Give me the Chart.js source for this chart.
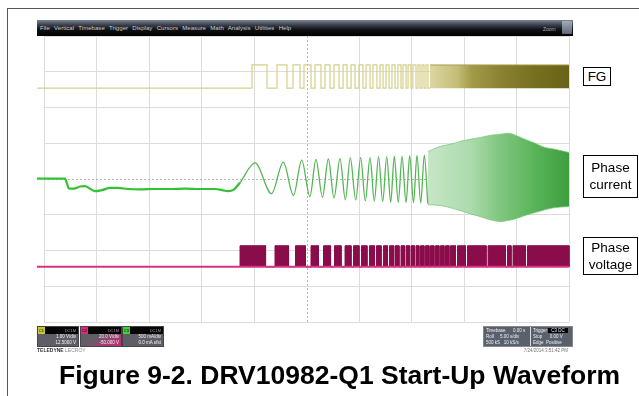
<!DOCTYPE html>
<html><head><meta charset="utf-8">
<script src="https://cdn.jsdelivr.net/npm/chart.js@4.4.1/dist/chart.umd.min.js"></script>
<style>
html,body{margin:0;padding:0;background:#fff;}
#wrap{position:relative;width:639px;height:396px;overflow:hidden;background:#fff;font-family:"Liberation Sans",Arial,sans-serif;}
#c{position:absolute;left:0;top:0;}
.abs{position:absolute;}
#frame{left:7px;top:8px;width:700px;height:500px;border-left:1.5px solid #555;border-top:1.5px solid #555;}
#menubar{left:37px;top:20px;width:536px;height:16px;background:linear-gradient(to bottom,#7d8798 0%,#3c414b 30%,#101114 60%,#000 100%);}
#menutext{left:40px;top:23.5px;font-size:6.1px;color:#c9cdd4;white-space:nowrap;word-spacing:2.6px;}
#zoomtxt{left:543px;top:26px;font-size:5px;color:#a9adb3;}
#zoombtn{left:562px;top:21px;width:10px;height:13px;background:linear-gradient(#a4acb8,#5f6774);border-radius:1px;}
.lbl{border:1px solid #000;background:#fff;color:#000;font-size:13.5px;text-align:center;line-height:17px;box-sizing:border-box;}
.ch{top:326px;height:21px;width:42px;box-sizing:border-box;border:1px solid #444;}
.chh{position:absolute;left:0;top:0;width:100%;height:7px;background:#050505;}
.tag{position:absolute;left:0;top:0;width:7px;height:7px;font-size:4px;line-height:7px;color:#000;text-align:center;}
.chb{position:absolute;left:0;top:7px;width:100%;height:12px;background:#5e5f66;color:#f2f2f2;font-size:4.5px;line-height:6px;text-align:right;padding-right:2px;box-sizing:border-box;}
.hdt{position:absolute;right:2px;top:1px;font-size:4px;color:#9a9a9a;line-height:5px;}
#tb{left:483px;top:326px;width:90px;height:21px;background:#59616b;border:1px solid #888;box-sizing:border-box;font-size:4.5px;color:#eef;}
.r{position:absolute;white-space:nowrap;line-height:6px;}
#title{left:0;top:360px;width:679px;text-align:center;font-weight:bold;font-size:26.5px;color:#000;white-space:nowrap;}
</style></head><body>
<div id="wrap">
<canvas id="c" width="639" height="396"></canvas>
<div id="frame" class="abs"></div>
<div id="menubar" class="abs"></div>
<div id="menutext" class="abs">File Vertical Timebase Trigger Display Cursors Measure Math Analysis Utilities Help</div>
<div id="zoomtxt" class="abs">Zoom</div>
<div id="zoombtn" class="abs"></div>

<div class="abs lbl" style="left:583px;top:67px;width:28px;height:19px;">FG</div>
<div class="abs lbl" style="left:583px;top:155px;width:55px;height:43px;padding-top:3px;">Phase<br>current</div>
<div class="abs lbl" style="left:583px;top:237px;width:55px;height:38px;padding-top:1px;">Phase<br>voltage</div>

<div class="abs ch" style="left:37px;"><div class="chh"><div class="tag" style="background:#c9c63a;">C1</div><div class="hdt">DC1M</div></div><div class="chb">1.00 V/div<br>12.5000 V</div></div>
<div class="abs ch" style="left:80px;"><div class="chh"><div class="tag" style="background:#e3267f;">C2</div><div class="hdt">DC1M</div></div><div class="chb" style="background:linear-gradient(150deg,#5e5f66 30%,#d0267a 100%);">20.0 V/div<br>-50.000 V</div></div>
<div class="abs ch" style="left:122px;"><div class="chh"><div class="tag" style="background:#3fd23f;">C3</div><div class="hdt">DC1M</div></div><div class="chb">500 mA/div<br>0.0 mA ofst</div></div>
<div class="abs" style="left:37px;top:347px;font-size:5px;color:#333;white-space:nowrap;"><b>TELEDYNE</b> <span style="color:#888">LECROY</span></div>

<div id="tb" class="abs">
 <div class="r" style="left:2px;top:1px;">Timebase &nbsp;&nbsp;&nbsp;&nbsp;&nbsp;0.00 s</div>
 <div class="r" style="left:49px;top:1px;">Trigger <span style="background:#000;padding:0 3px;">C3 DC</span></div>
 <div class="r" style="left:2px;top:7px;">Roll &nbsp;&nbsp;&nbsp;&nbsp;5.00 s/div</div>
 <div class="r" style="left:49px;top:7px;">Stop &nbsp;&nbsp;&nbsp;&nbsp;&nbsp;0.00 V</div>
 <div class="r" style="left:2px;top:13px;">500 kS &nbsp;&nbsp;10 kS/s</div>
 <div class="r" style="left:49px;top:13px;">Edge &nbsp;Positive</div>
 <div class="abs" style="left:46px;top:0;width:1px;height:19px;background:#ddd;"></div>
</div>
<div class="abs" style="left:520px;top:348px;width:48px;text-align:right;font-size:4.5px;color:#777;white-space:nowrap;">7/24/2014 3:51:42 PM</div>

<div id="title" class="abs">Figure 9-2. DRV10982-Q1 Start-Up Waveform</div>
</div>
<script>
// ---- data (x: time in s, 5 s/div; y: screen divisions 0..8) ----
const traceStart = -0.67;
const traceEnd = 50;
const gridTimes = [0, 5, 10, 15, 20, 25, 30, 35, 40, 45, 50];
const gridDivs = [0, 1, 2, 3, 4, 5, 6, 7, 8];

// FG (Ch1)
const fgLevels = [6.54, 7.19];            // low, high
const fgRise = [19.81, 22.19, 23.71, 24.76, 25.81, 26.76, 27.62, 28.48, 29.24, 30.00, 30.67, 31.33, 32.00, 32.57, 33.14, 33.71, 34.19, 34.67, 35.14, 35.62, 36.00, 36.38];
const fgFall = [21.24, 23.14, 24.38, 25.43, 26.38, 27.24, 28.10, 28.86, 29.62, 30.38, 31.05, 31.71, 32.29, 32.86, 33.43, 34.00, 34.48, 34.95, 35.43, 35.81, 36.19, 36.57];
const fgDense = [36.76, 50.00];           // start/end of unresolved toggling

// Phase current (Ch3)
const curPreT = [-0.67, 2.00, 2.19, 2.38, 2.86, 3.43, 3.90, 4.38, 4.86, 5.52, 6.29, 7.05, 8.00, 9.14, 10.57, 12.00, 13.43, 14.86, 16.29, 16.95, 17.52, 18.10, 18.67];
const curPreV = [4.01, 4.01, 3.87, 3.73, 3.73, 3.79, 3.80, 3.73, 3.66, 3.69, 3.75, 3.75, 3.72, 3.71, 3.72, 3.72, 3.73, 3.72, 3.72, 3.69, 3.66, 3.71, 3.90];
const curOscT = [18.67, 20.10, 21.67, 22.79, 23.76, 24.54, 25.33, 25.90, 26.52, 27.08, 27.62, 28.19, 28.70, 29.17, 29.69, 30.16, 30.60, 31.05, 31.46, 31.86, 32.26, 32.64, 33.02, 33.36, 33.74, 34.10, 34.48, 34.83, 35.19, 35.52, 35.88, 36.22, 36.55];
const curOscV = [3.90, 4.45, 3.59, 4.47, 3.54, 4.53, 3.51, 4.55, 3.49, 4.56, 3.47, 4.57, 3.42, 4.59, 3.41, 4.60, 3.39, 4.60, 3.38, 4.62, 3.37, 4.62, 3.35, 4.63, 3.35, 4.63, 3.34, 4.65, 3.34, 4.66, 3.33, 4.67, 3.31];
const curEnvT = [36.57, 37.71, 38.67, 39.62, 40.57, 41.52, 42.48, 43.43, 44.19, 44.95, 45.81, 46.76, 47.71, 48.67, 50.00];
const curEnvTop = [4.77, 4.91, 4.97, 5.05, 5.11, 5.16, 5.22, 5.25, 5.28, 5.22, 5.11, 5.00, 4.88, 4.83, 4.74];
const curEnvBot = [3.28, 3.26, 3.20, 3.12, 3.03, 2.95, 2.86, 2.81, 2.84, 2.89, 2.98, 3.06, 3.14, 3.20, 3.23];

// Phase voltage (Ch2)
const vLevels = [1.544, 2.133];           // base, top
const vBlockStart = [18.67, 22.00, 23.95, 25.43, 26.62, 27.67, 28.67, 29.48, 30.24, 31.00, 31.67, 32.33, 32.90, 33.43, 34.00, 34.48, 34.95, 35.43, 35.86, 36.33, 36.81, 37.29, 37.76, 38.24, 38.71, 39.38, 40.33, 42.29, 44.14, 44.67, 46.05];
const vBlockEnd   = [21.10, 23.29, 24.90, 26.14, 27.29, 28.29, 29.24, 30.00, 30.76, 31.48, 32.10, 32.71, 33.29, 33.81, 34.33, 34.81, 35.29, 35.71, 36.19, 36.67, 37.14, 37.62, 38.10, 38.57, 39.19, 40.14, 42.10, 43.95, 44.48, 45.86, 50.00];

// ---- build point lists ----
const fgPts = [{x: traceStart, y: fgLevels[0]}];
fgRise.forEach((r, i) => {
  fgPts.push({x: r, y: fgLevels[0]}, {x: r, y: fgLevels[1]}, {x: fgFall[i], y: fgLevels[1]}, {x: fgFall[i], y: fgLevels[0]});
});
fgPts.push({x: fgDense[0], y: fgLevels[0]});
const fgDensePts = fgDense.map(t => ({x: t, y: fgLevels[1]}));

const curPrePts = curPreT.map((t, i) => ({x: t, y: curPreV[i]}));
const curOscPts = curOscT.map((t, i) => ({x: t, y: curOscV[i]}));
const curTopPts = curEnvT.map((t, i) => ({x: t, y: curEnvTop[i]}));
const curBotPts = curEnvT.map((t, i) => ({x: t, y: curEnvBot[i]}));

const vPts = [];
vBlockStart.forEach((a, i) => {
  const b = vBlockEnd[i];
  vPts.push({x: a, y: vLevels[0]}, {x: a, y: vLevels[1]}, {x: b, y: vLevels[1]}, {x: b, y: vLevels[0]});
});
const vBasePts = [{x: traceStart, y: vLevels[0]}, {x: traceEnd, y: vLevels[0]}];

function hGrad(stops, x0, x1) {
  return function (ctx) {
    const chart = ctx.chart;
    if (!chart.chartArea) return stops[0][1];
    const xs = chart.scales.x;
    const g = chart.ctx.createLinearGradient(xs.getPixelForValue(x0), 0, xs.getPixelForValue(x1), 0);
    stops.forEach(s => g.addColorStop(s[0], s[1]));
    return g;
  };
}

const centerLines = {
  id: 'centerLines',
  beforeDatasetsDraw(chart) {
    const {ctx, chartArea: a, scales: {x, y}} = chart;
    ctx.save();
    ctx.strokeStyle = '#b5b5b5';
    ctx.lineWidth = 1;
    ctx.setLineDash([2, 2]);
    const cx = Math.round(x.getPixelForValue(25)) + 0.5;
    const cy = Math.round(y.getPixelForValue(4)) + 0.5;
    ctx.beginPath();
    ctx.moveTo(cx, a.top); ctx.lineTo(cx, a.bottom);
    ctx.moveTo(a.left, cy); ctx.lineTo(a.right, cy);
    ctx.stroke();
    ctx.restore();
  }
};

const common = {pointRadius: 0, clip: false, tension: 0};

new Chart(document.getElementById('c'), {
  type: 'line',
  data: {
    datasets: [
      Object.assign({}, common, {data: vBasePts, borderColor: '#d63282', borderWidth: 2}),
      Object.assign({}, common, {data: vPts, borderColor: '#8a0c4a', borderWidth: 1, fill: {value: vLevels[0]}, backgroundColor: '#8a0c4a'}),
      Object.assign({}, common, {data: curPrePts, borderColor: '#33c233', borderWidth: 2.2, cubicInterpolationMode: 'monotone'}),
      Object.assign({}, common, {data: curOscPts, borderColor: '#55b655', borderWidth: 1.3, cubicInterpolationMode: 'monotone'}),
      Object.assign({}, common, {data: curTopPts, borderColor: 'rgba(120,196,120,0.7)', borderWidth: 1, tension: 0.3}),
      Object.assign({}, common, {data: curBotPts, borderColor: 'rgba(120,196,120,0.7)', borderWidth: 1, tension: 0.3, fill: '-1',
        backgroundColor: hGrad([[0, '#c6e6c6'], [0.3, '#acdbac'], [0.5, '#82c782'], [0.75, '#5ab45a'], [1, '#3e9e3e']], curEnvT[0], curEnvT[curEnvT.length - 1])}),
      Object.assign({}, common, {data: fgPts, borderColor: '#d6cf88', borderWidth: 1.2}),
      Object.assign({}, common, {data: fgDensePts, borderColor: '#a79e4c', borderWidth: 1, fill: {value: fgLevels[0]},
        backgroundColor: hGrad([[0, '#dcd6a4'], [0.2, '#c4bc76'], [0.3, '#a39a48'], [0.5, '#8c8232'], [0.75, '#777020'], [1, '#6a6318']], fgDense[0], fgDense[1])})
    ]
  },
  options: {
    responsive: false,
    animation: false,
    devicePixelRatio: 1,
    layout: {padding: {left: 44, right: 70, top: 36, bottom: 74}},
    plugins: {legend: {display: false}, tooltip: {enabled: false}},
    scales: {
      x: {type: 'linear', min: gridTimes[0], max: gridTimes[gridTimes.length - 1],
        afterBuildTicks: s => { s.ticks = gridTimes.map(v => ({value: v})); },
        ticks: {display: false}, border: {display: false},
        grid: {drawTicks: false, color: c => (c.tick && c.tick.value === 25) ? 'rgba(0,0,0,0)' : '#dcdcdc'}},
      y: {type: 'linear', min: gridDivs[0], max: gridDivs[gridDivs.length - 1],
        afterBuildTicks: s => { s.ticks = gridDivs.map(v => ({value: v})); },
        ticks: {display: false}, border: {display: false},
        grid: {drawTicks: false, color: c => (c.tick && c.tick.value === 4) ? 'rgba(0,0,0,0)' : '#dcdcdc'}}
    }
  },
  plugins: [centerLines]
});
</script>
</body></html>
